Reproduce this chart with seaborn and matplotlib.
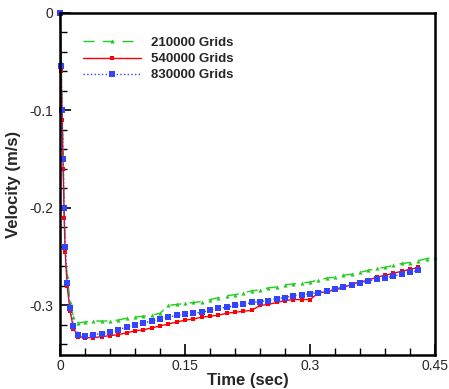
import matplotlib
matplotlib.use("Agg")
import matplotlib.pyplot as plt
import seaborn as sns
import pandas as pd
from matplotlib.ticker import MultipleLocator, FixedLocator

sns.set_theme(style="white")
plt.rcParams['font.family'] = ['Liberation Sans', 'DejaVu Sans']
plt.rcParams['axes.unicode_minus'] = False

early_t = [0, 0.0012, 0.0024, 0.0036, 0.0048, 0.006, 0.0084, 0.012, 0.016, 0.022, 0.03]
tail_t = [0.04, 0.05, 0.06, 0.07, 0.08, 0.09, 0.10, 0.11, 0.12, 0.13, 0.14, 0.15,
          0.16, 0.17, 0.18, 0.19, 0.20, 0.21, 0.22, 0.23, 0.24, 0.25, 0.26, 0.27,
          0.28, 0.29, 0.30, 0.31, 0.32, 0.33, 0.34, 0.35, 0.36, 0.37, 0.38, 0.39,
          0.40, 0.41, 0.42, 0.43]
time_830 = early_t + tail_t
time_540 = early_t + tail_t
time_210 = early_t + tail_t + [0.44, 0.45]

vel_210 = [0, -0.05, -0.10, -0.15, -0.20, -0.24, -0.27, -0.297, -0.312, -0.318, -0.317,
           -0.316, -0.316, -0.316, -0.315, -0.313, -0.312, -0.311, -0.310, -0.308, -0.300,
           -0.299, -0.298, -0.297, -0.296, -0.294, -0.292, -0.290, -0.289, -0.287, -0.285,
           -0.284, -0.282, -0.281, -0.279, -0.278, -0.277, -0.276, -0.274, -0.272, -0.271,
           -0.269, -0.268, -0.266, -0.264, -0.262, -0.261, -0.259, -0.257, -0.256, -0.254,
           -0.252, -0.250]
vel_540 = [0, -0.06, -0.11, -0.16, -0.21, -0.245, -0.28, -0.306, -0.324, -0.332, -0.333,
           -0.333, -0.332, -0.331, -0.330, -0.328, -0.326, -0.325, -0.323, -0.321, -0.319,
           -0.317, -0.315, -0.314, -0.312, -0.311, -0.310, -0.308, -0.307, -0.306, -0.305,
           -0.300, -0.299, -0.297, -0.295, -0.294, -0.294, -0.294, -0.287, -0.286, -0.284,
           -0.282, -0.278, -0.276, -0.274, -0.271, -0.269, -0.267, -0.265, -0.263, -0.261]
vel_830 = [0, -0.055, -0.10, -0.15, -0.20, -0.24, -0.277, -0.303, -0.321, -0.330, -0.331,
           -0.330, -0.329, -0.327, -0.325, -0.322, -0.320, -0.318, -0.316, -0.314, -0.312,
           -0.310, -0.309, -0.308, -0.307, -0.305, -0.303, -0.302, -0.300, -0.299, -0.297,
           -0.296, -0.295, -0.293, -0.292, -0.290, -0.289, -0.288, -0.287, -0.285, -0.283,
           -0.281, -0.279, -0.277, -0.275, -0.273, -0.272, -0.270, -0.268, -0.266, -0.264]

labels = ["210000 Grids", "540000 Grids", "830000 Grids"]
x_ticks = [0, 0.15, 0.3, 0.45]
x_ticklabels = ["0", "0.15", "0.3", "0.45"]
y_ticks = [0, -0.1, -0.2, -0.3]
y_ticklabels = ["0", "-0.1", "-0.2", "-0.3"]

fig = plt.figure(figsize=(4.49, 3.89), dpi=100)
ax = fig.add_axes([0.134, 0.087, 0.835, 0.880])

styles = [
    dict(color="#22cc22", linestyle=(0, (8, 6)), marker="^", markersize=3, lw=1.0),
    dict(color="#ff0000", linestyle="-", marker="s", markersize=2.5, lw=1.0),
    dict(color="#3344ff", linestyle=":", marker="s", markersize=4.5, lw=1.0),
]
for (t, v, lab, st) in [(time_210, vel_210, labels[0], styles[0]),
                        (time_540, vel_540, labels[1], styles[1]),
                        (time_830, vel_830, labels[2], styles[2])]:
    df = pd.DataFrame({"t": t, "v": v})
    sns.lineplot(data=df, x="t", y="v", ax=ax, sort=False, estimator=None,
                 label=lab, markeredgewidth=0, clip_on=False, **st)

ax.set_xlim(0, 0.45)
ax.set_ylim(-0.351, 0)
ax.xaxis.set_major_locator(FixedLocator(x_ticks))
ax.set_xticklabels(x_ticklabels)
ax.yaxis.set_major_locator(FixedLocator(y_ticks))
ax.set_yticklabels(y_ticklabels)
ax.xaxis.set_minor_locator(MultipleLocator(0.03))
ax.yaxis.set_minor_locator(MultipleLocator(0.02))
ax.tick_params(which="major", direction="in", length=8, width=1.2, color="black",
               labelsize=10, bottom=True, left=True)
ax.tick_params(axis="x", which="major", pad=3)
ax.tick_params(axis="y", which="major", pad=5)
ax.tick_params(which="minor", direction="in", length=5, width=1.0, color="black",
               bottom=True, left=True)
for s in ax.spines.values():
    s.set_color("black")
    s.set_linewidth(1.8)

ax.set_xlabel("Time (sec)", fontsize=12, fontweight="bold", labelpad=0)
ax.set_ylabel("Velocity (m/s)", fontsize=12, fontweight="bold", labelpad=6)

leg = ax.legend(loc="upper left", bbox_to_anchor=(0.03, 0.965), frameon=False,
                handlelength=4.4, prop={"weight": "bold", "size": 9.5},
                labelspacing=0.3, handletextpad=0.7)

fig.savefig("out.png", dpi=100)
